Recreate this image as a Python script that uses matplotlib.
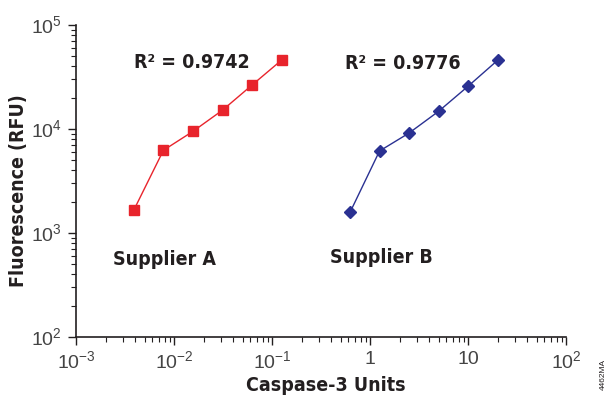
import numpy as np
import matplotlib.pyplot as plt
from matplotlib.ticker import FixedLocator, LogLocator, NullFormatter

# data
units_a = [0.0039, 0.0078, 0.0156, 0.03125, 0.0625, 0.125]
rfu_a = [1670, 6250, 9500, 15200, 26500, 46000]
units_b = [0.625, 1.25, 2.5, 5, 10, 20]
rfu_b = [1580, 6150, 9150, 14800, 25800, 45800]
xtick_vals = [1e-3, 1e-2, 1e-1, 1, 10, 100]
xtick_labels = ["$10^{-3}$", "$10^{-2}$", "$10^{-1}$", "1", "10", "$10^{2}$"]
ytick_vals = [1e2, 1e3, 1e4, 1e5]
ytick_labels = ["$10^{2}$", "$10^{3}$", "$10^{4}$", "$10^{5}$"]

plt.rcParams['font.family'] = ['Liberation Sans', 'DejaVu Sans']
plt.rcParams['mathtext.fontset'] = 'custom'
plt.rcParams['mathtext.rm'] = 'Liberation Sans'

dark = "#231f20"
bold_font = dict(family="DejaVu Sans", stretch="condensed", weight="bold", color=dark)

fig = plt.figure(figsize=(6.08, 4.05), dpi=100)
ax = fig.add_axes([0.125, 0.168, 0.806, 0.770])

ax.plot(units_a, rfu_a, color="#e8242c", lw=1.0, marker="s", ms=7, mec="#e8242c", mfc="#e8242c")
ax.plot(units_b, rfu_b, color="#2a3192", lw=1.0, marker="D", ms=6, mec="#2a3192", mfc="#2a3192")

ax.set_xscale("log")
ax.set_yscale("log")
ax.set_xlim(1e-3, 1e2)
ax.set_ylim(1e2, 1e5)

ax.xaxis.set_major_locator(FixedLocator(xtick_vals))
ax.set_xticklabels(xtick_labels)
ax.yaxis.set_major_locator(FixedLocator(ytick_vals))
ax.set_yticklabels(ytick_labels)
ax.xaxis.set_minor_locator(LogLocator(base=10, subs=np.arange(2, 10), numticks=20))
ax.yaxis.set_minor_locator(LogLocator(base=10, subs=np.arange(2, 10), numticks=20))
ax.xaxis.set_minor_formatter(NullFormatter())
ax.yaxis.set_minor_formatter(NullFormatter())

for s in ["top", "right"]:
    ax.spines[s].set_visible(False)
for s in ["left", "bottom"]:
    ax.spines[s].set_linewidth(1.2)
    ax.spines[s].set_color(dark)

ax.tick_params(which="major", direction="out", length=6, width=1.0, colors=dark,
               labelsize=14, labelcolor="#444444", pad=4)
ax.tick_params(which="minor", direction="out", length=3.5, width=0.8, colors=dark)

ax.set_xlabel("Caspase-3 Units", fontsize=14, **bold_font)
ax.xaxis.set_label_coords(0.51, -0.125)
ax.set_ylabel("Fluorescence (RFU)", fontsize=14, **bold_font)
ax.yaxis.set_label_coords(-0.098, 0.47)

ax.text(0.0153, 44000, "R² = 0.9742", fontsize=14, ha="center", va="center", **bold_font)
ax.text(2.15, 43000, "R² = 0.9776", fontsize=14, ha="center", va="center", **bold_font)
ax.text(0.0080, 550, "Supplier A", fontsize=14, ha="center", va="center", **bold_font)
ax.text(1.32, 575, "Supplier B", fontsize=14, ha="center", va="center", **bold_font)

fig.text(0.993, 0.075, "4462MA", fontsize=6, rotation=90, color=dark, ha="center", va="center")

fig.savefig("out.png", dpi=100)
